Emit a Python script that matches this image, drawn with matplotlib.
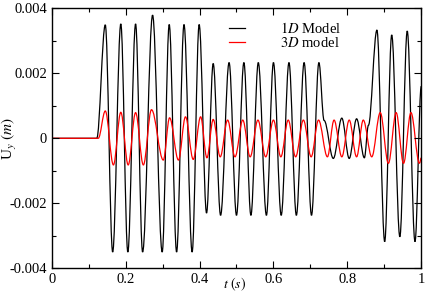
import matplotlib
matplotlib.use("Agg")
import matplotlib.pyplot as plt
from matplotlib.path import Path
from matplotlib.patches import PathPatch
from matplotlib.lines import Line2D
from matplotlib.ticker import MultipleLocator, FixedLocator

plt.rcParams['font.family'] = ['Liberation Serif', 'DejaVu Serif']
plt.rcParams['mathtext.fontset'] = 'stix'

# turning points of the 1D model curve
t_1d = [0.0, 0.122, 0.145, 0.165, 0.187, 0.206, 0.227, 0.246, 0.273, 0.299,
        0.318, 0.338, 0.358, 0.380, 0.399, 0.419, 0.437, 0.457, 0.480, 0.500,
        0.520, 0.539, 0.559, 0.581, 0.600, 0.621, 0.642, 0.662, 0.683, 0.703,
        0.723, 0.737, 0.762, 0.785, 0.805, 0.825, 0.846, 0.857, 0.880, 0.901,
        0.920, 0.942, 0.962, 0.983, 1.0]
u_1d = [0.0, 0.0, 0.00349, -0.0035, 0.00352, -0.0035, 0.00352, -0.0035, 0.00379, -0.0035,
        0.0035, -0.0035, 0.0035, -0.0035, 0.0035, -0.0023, 0.0023, -0.00237, 0.00233, -0.00237,
        0.00233, -0.00237, 0.00233, -0.00237, 0.00233, -0.00237, 0.00233, -0.00237, 0.00233, -0.00237,
        0.00233, 0.00055, -0.00062, 0.00062, -0.00062, 0.0006, -0.0006, 0.0004, 0.00333, -0.00318,
        0.00318, -0.00303, 0.0033, -0.00318, 0.0016]

# turning points of the 3D model curve
t_3d = [0.0, 0.126, 0.145, 0.167, 0.187, 0.207, 0.227, 0.248, 0.270, 0.302,
        0.319, 0.343, 0.362, 0.383, 0.403, 0.420, 0.437, 0.456, 0.476, 0.496,
        0.517, 0.537, 0.558, 0.579, 0.600, 0.620, 0.640, 0.660, 0.681, 0.702,
        0.722, 0.746, 0.764, 0.785, 0.805, 0.825, 0.843, 0.866, 0.889, 0.911,
        0.932, 0.952, 0.972, 0.995, 1.0]
u_3d = [0.0, 0.0, 0.00084, -0.00082, 0.0008, -0.00082, 0.00079, -0.00082, 0.00088, -0.00067,
        0.00063, -0.00067, 0.00066, -0.00065, 0.00066, -0.0006, 0.00058, -0.00057, 0.00056, -0.00057,
        0.00056, -0.00057, 0.00056, -0.00057, 0.00056, -0.00057, 0.00056, -0.00057, 0.00056, -0.00057,
        0.00056, -0.00057, 0.00056, -0.00057, 0.00056, -0.00057, 0.00056, -0.00057, 0.00079, -0.00077,
        0.00079, -0.00077, 0.00079, -0.00077, -0.0006]

xticks = [0, 0.2, 0.4, 0.6, 0.8, 1]
xtick_labels = ["0", "0.2", "0.4", "0.6", "0.8", "1"]
yticks = [-0.004, -0.002, 0, 0.002, 0.004]
ytick_labels = ["-0.004", "-0.002", "0", "0.002", "0.004"]


def wave_path(t, u, k=0.36):
    # smooth curve through the turning points, flat tangent at each one
    verts = [(t[0], u[0])]
    codes = [Path.MOVETO]
    for i in range(1, len(t)):
        dt = t[i] - t[i - 1]
        verts += [(t[i - 1] + k * dt, u[i - 1]), (t[i] - k * dt, u[i]), (t[i], u[i])]
        codes += [Path.CURVE4] * 3
    return Path(verts, codes)


fig = plt.figure(figsize=(4.29, 2.92), dpi=100)
ax = fig.add_axes([0.1205, 0.0812, 0.8615, 0.8904])

ax.add_patch(PathPatch(wave_path(t_1d, u_1d), fill=False, edgecolor="black", lw=0.9))
ax.add_patch(PathPatch(wave_path(t_3d, u_3d), fill=False, edgecolor="red", lw=0.9))

ax.set_xlim(0, 1)
ax.set_ylim(-0.004, 0.004)
ax.xaxis.set_major_locator(FixedLocator(xticks))
ax.set_xticklabels(xtick_labels)
ax.yaxis.set_major_locator(FixedLocator(yticks))
ax.set_yticklabels(ytick_labels)
ax.xaxis.set_minor_locator(MultipleLocator(0.1))
ax.yaxis.set_minor_locator(MultipleLocator(0.001))
ax.tick_params(which="both", direction="in", top=True, right=True, labelsize=10.5, width=0.8)
ax.tick_params(which="major", length=5)
ax.tick_params(which="minor", length=3)
for s in ax.spines.values():
    s.set_linewidth(1.0)

ax.set_xlabel("$t\\ (s)$", fontsize=10)
ax.xaxis.set_label_coords(0.496, -0.03)
ax.set_ylabel("U$_y$ $(m)$", fontsize=11)
ax.yaxis.set_label_coords(-0.088, 0.5)

handles = [Line2D([], [], color="black", lw=0.9), Line2D([], [], color="red", lw=0.9)]
ax.legend(handles, ["$1D$ Model", "$3D$ model"], loc="upper left", bbox_to_anchor=(0.445, 1.0),
          frameon=False, fontsize=10.5, handlelength=1.1, handletextpad=2.4,
          labelspacing=0.0, borderaxespad=0.5)

fig.savefig("out.png", dpi=100)
